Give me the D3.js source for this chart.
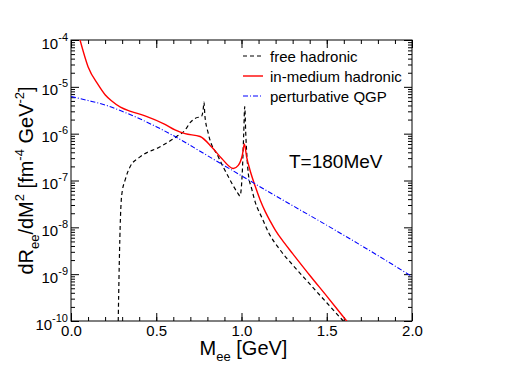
<!DOCTYPE html>
<html><head><meta charset="utf-8">
<script src="https://cdn.jsdelivr.net/npm/d3@7"></script>
<style>
body{margin:0;background:#fff}
svg{display:block}
text{font-family:"Liberation Sans",Arial,Helvetica,sans-serif;fill:#000}
</style>
</head><body>
<svg id="c" width="508" height="392"></svg>
<script>
// ---- data ----
const freeMass = [0.277, 0.283, 0.290, 0.297, 0.320, 0.346, 0.405, 0.52, 0.62, 0.67, 0.70, 0.73, 0.766, 0.775, 0.780, 0.785, 0.805, 0.864, 0.923, 0.975, 0.991, 1.005, 1.013, 1.019, 1.025, 1.04, 1.06, 1.08, 1.12, 1.16, 1.226, 1.30, 1.40, 1.50, 1.597, 1.63];
const freeRate = [1e-10, 1.6e-9, 1.6e-8, 4.7e-8, 1.1e-7, 1.95e-7, 3.2e-7, 5.2e-7, 8.7e-7, 1.2e-6, 1.74e-6, 2.14e-6, 2.35e-6, 3.2e-6, 4.7e-6, 2.5e-6, 1.02e-6, 3.2e-7, 1.2e-7, 5.6e-8, 4.7e-8, 1.6e-7, 1.0e-6, 3.8e-6, 1.0e-6, 1.4e-7, 6.6e-8, 3.5e-8, 1.6e-8, 7.6e-9, 3.3e-9, 1.58e-9, 6.2e-10, 2.45e-10, 1.0e-10, 7.4e-11];
const medMass = [0.053, 0.10, 0.16, 0.20, 0.239, 0.29, 0.35, 0.434, 0.551, 0.61, 0.669, 0.757, 0.825, 0.884, 0.952, 0.981, 1.005, 1.017, 1.03, 1.05, 1.08, 1.11, 1.14, 1.17, 1.20, 1.25, 1.30, 1.40, 1.50, 1.617, 1.65];
const medRate = [1.0e-4, 2.7e-5, 1.1e-5, 6.8e-6, 5.0e-6, 3.7e-6, 3.0e-6, 2.4e-6, 1.58e-6, 1.2e-6, 1.0e-6, 8.7e-7, 5.2e-7, 2.95e-7, 1.8e-7, 2.1e-7, 3.5e-7, 6.0e-7, 3.2e-7, 1.66e-7, 7.6e-8, 3.8e-8, 2.14e-8, 1.32e-8, 8.5e-9, 4.7e-9, 2.75e-9, 9.5e-10, 3.4e-10, 1.0e-10, 7.1e-11];
const qgpMass = [0.0, 0.1, 0.2, 0.3, 0.4, 0.5, 0.6, 0.8, 1.0, 1.2, 1.4, 1.6, 1.8, 2.0];
const qgpRate = [6.2e-6, 5.1e-6, 4.1e-6, 3.0e-6, 2.1e-6, 1.41e-6, 9.1e-7, 3.4e-7, 1.26e-7, 4.7e-8, 1.8e-8, 6.8e-9, 2.5e-9, 8.9e-10];
const xTickValues = [0.0, 0.5, 1.0, 1.5, 2.0];
const xTickLabels = ["0.0", "0.5", "1.0", "1.5", "2.0"];
const yTickValues = [1e-4, 1e-5, 1e-6, 1e-7, 1e-8, 1e-9, 1e-10];
const yTickExponents = ["-4", "-5", "-6", "-7", "-8", "-9", "-10"];
const legendLabels = ["free hadronic", "in-medium hadronic", "perturbative QGP"];
const annotation = "T=180MeV";

// ---- layout ----
const L = 71, R = 412, T = 40, B = 321;
const svg = d3.select("#c");
const x = d3.scaleLinear().domain([0, 2]).range([L, R]);
const y = d3.scaleLog().domain([1e-10, 1e-4]).range([B, T]);

const xMinor = d3.range(0, 2.0001, 0.1).map(v => +v.toFixed(2));
const yMinor = [];
for (let e = -10; e < -4; e++) for (let m = 2; m <= 9; m++) yMinor.push(m * Math.pow(10, e));

function styleAxis(g) {
  g.select(".domain").remove();
  g.selectAll(".tick line").attr("stroke", "#000").attr("stroke-width", 1);
}
// minor ticks
svg.append("g").attr("transform", `translate(0,${B})`).call(d3.axisBottom(x).tickValues(xMinor).tickSize(-4).tickFormat("")).call(styleAxis);
svg.append("g").attr("transform", `translate(0,${T})`).call(d3.axisTop(x).tickValues(xMinor).tickSize(-4).tickFormat("")).call(styleAxis);
svg.append("g").attr("transform", `translate(${L},0)`).call(d3.axisLeft(y).tickValues(yMinor).tickSize(-4).tickFormat("")).call(styleAxis);
svg.append("g").attr("transform", `translate(${R},0)`).call(d3.axisRight(y).tickValues(yMinor).tickSize(-4).tickFormat("")).call(styleAxis);
// major ticks
const xb = svg.append("g").attr("transform", `translate(0,${B})`)
  .call(d3.axisBottom(x).tickValues(xTickValues).tickSize(-8).tickPadding(3).tickFormat((d, i) => xTickLabels[i])).call(styleAxis);
xb.selectAll("text").attr("font-size", 15).attr("dy", null).attr("y", 14.5).attr("font-family", "Liberation Sans, Arial, sans-serif");
svg.append("g").attr("transform", `translate(0,${T})`).call(d3.axisTop(x).tickValues(xTickValues).tickSize(-8).tickFormat("")).call(styleAxis);
const yl = svg.append("g").attr("transform", `translate(${L},0)`)
  .call(d3.axisLeft(y).tickValues(yTickValues).tickSize(-8).tickPadding(3).tickFormat("")).call(styleAxis);
yl.selectAll(".tick").each(function(d, i) {
  const t = d3.select(this).select("text").attr("dy", null).attr("y", 8).attr("x", -3)
    .attr("text-anchor", "end").attr("font-family", "Liberation Sans, Arial, sans-serif");
  t.text(null);
  t.append("tspan").attr("font-size", 15).text("10");
  t.append("tspan").attr("font-size", 11).attr("dy", -8).text(yTickExponents[i]);
});
svg.append("g").attr("transform", `translate(${R},0)`).call(d3.axisRight(y).tickValues(yTickValues).tickSize(-8).tickFormat("")).call(styleAxis);

// frame
svg.append("rect").attr("x", L).attr("y", T).attr("width", R - L).attr("height", B - T)
  .attr("fill", "none").attr("stroke", "#000").attr("stroke-width", 1);

// curves
svg.append("clipPath").attr("id", "clip").append("rect").attr("x", L).attr("y", T).attr("width", R - L).attr("height", B - T);
const line = d3.line().x(d => x(d[0])).y(d => y(d[1])).curve(d3.curveMonotoneX);
const gC = svg.append("g").attr("clip-path", "url(#clip)");
const series = [
  {m: freeMass, r: freeRate, color: "#000", w: 1.2, dash: "4,3"},
  {m: medMass, r: medRate, color: "#ff0000", w: 1.4, dash: null},
  {m: qgpMass, r: qgpRate, color: "#0000ff", w: 1.1, dash: "5,2,1,2"}
];
series.forEach(s => {
  gC.append("path").datum(d3.zip(s.m, s.r)).attr("d", line)
    .attr("fill", "none").attr("stroke", s.color).attr("stroke-width", s.w)
    .attr("stroke-dasharray", s.dash);
});

// legend
const lg = svg.append("g");
legendLabels.forEach((lab, i) => {
  const yy = 56 + i * 20;
  lg.append("line").attr("x1", 243).attr("x2", 263).attr("y1", yy).attr("y2", yy)
    .attr("stroke", series[i].color).attr("stroke-width", series[i].w).attr("stroke-dasharray", series[i].dash);
  lg.append("text").attr("x", 270).attr("y", yy + 5.5).attr("font-size", 15).text(lab);
});

// annotation
svg.append("text").attr("x", 289).attr("y", 168).attr("font-size", 19).text(annotation);

// x title
const xt = svg.append("text").attr("x", (L + R) / 2 + 2).attr("y", 355).attr("text-anchor", "middle");
xt.append("tspan").attr("font-size", 20).text("M");
xt.append("tspan").attr("font-size", 13).attr("dy", 6).text("ee");
xt.append("tspan").attr("font-size", 20).attr("dy", -6).text(" [GeV]");

// y title
const yt = svg.append("text").attr("transform", `translate(33,${(T + B) / 2}) rotate(-90)`).attr("text-anchor", "middle");
yt.append("tspan").attr("font-size", 20).text("dR");
yt.append("tspan").attr("font-size", 13).attr("dy", 6).text("ee");
yt.append("tspan").attr("font-size", 20).attr("dy", -6).text("/dM");
yt.append("tspan").attr("font-size", 13).attr("dy", -9).text("2");
yt.append("tspan").attr("font-size", 20).attr("dy", 9).text(" [fm");
yt.append("tspan").attr("font-size", 13).attr("dy", -9).text("-4");
yt.append("tspan").attr("font-size", 20).attr("dy", 9).text(" GeV");
yt.append("tspan").attr("font-size", 13).attr("dy", -9).text("-2");
yt.append("tspan").attr("font-size", 20).attr("dy", 9).text("]");
</script>
</body></html>
